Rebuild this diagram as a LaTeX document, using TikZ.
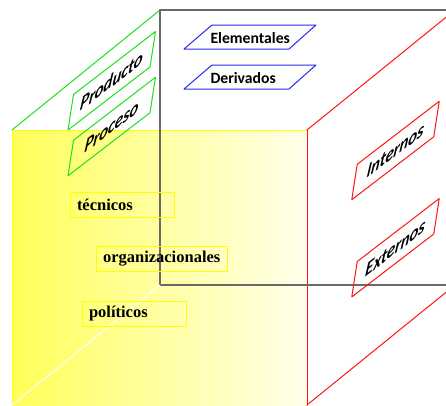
\documentclass[tikz,border=0pt]{standalone}
\usepackage{fontspec}
\setmainfont{Liberation Serif}
\newfontfamily\cuadro{Carlito}
\definecolor{verde}{RGB}{30,225,30}
\definecolor{rojo}{RGB}{255,20,20}
\definecolor{azul}{RGB}{40,40,240}
\definecolor{gris}{RGB}{105,105,105}
\definecolor{amarillo}{RGB}{255,255,0}
\definecolor{amarilloA}{RGB}{255,255,90}
\definecolor{amarilloB}{RGB}{255,255,235}
\begin{document}
\begin{tikzpicture}[line join=round,line cap=round,x=1pt,y=-1pt,line width=1pt,
	inclinado/.style={draw=#1,inner sep=0pt,minimum width=103.4pt,minimum height=35.9pt,
		cm={0.793,0.609,0.153,0.988,(0,0)},font=\cuadro\bfseries\itshape\fontsize{21}{21}\selectfont},
	factor/.style={draw=amarillo,anchor=west,inner xsep=6.5pt,minimum height=25pt,
		text width=#1,align=flush left,font=\bfseries\fontsize{16.5}{16.5}\selectfont},
	dato/.style={anchor=base west,inner sep=0pt,font=\cuadro\bfseries\fontsize{15.7}{15.7}\selectfont}]
	\newcommand{\drawdato}[3]{
		% paralelogramo azul
		\draw[azul] (184,#2+12) -- ++(28,-24) -- ++(104,0) -- ++(-27,24) -- cycle;
		\node[dato] (#1) at (210,#2+6.5) {#3};
	}
	\useasboundingbox (0,0) rectangle (446,405);
	\clip (0,0) rectangle (446,405);
	% Vértices del cubo
	\coordinate (FA) at (12,130);
	\coordinate (FB) at (307,130);
	\coordinate (FC) at (307,405);
	\coordinate (FD) at (12,405);
	\coordinate (BA) at (160,10);
	\coordinate (BB) at (455,10);
	\coordinate (BC) at (455,285);
	\coordinate (BD) at (160,285);
	% Cara frontal
	\fill[left color=amarilloA,right color=amarilloB] (FA) rectangle (FC);
	\draw[amarillo] (FD) -- (FA) -- (FB);
	\draw[rojo] (FB) -- (FC);
	% Cara superior y lateral
	\draw[verde] (FA) -- (BA);
	\draw[rojo] (FB) -- (BB) (FC) -- (BC);
	% Cara posterior
	\draw[gris,line width=1.4pt] (BB) -- (BA) -- (BD) -- (BC);
	\draw[white] (FD) -- (BD);
	% Datos
	\drawdato{elementales}{37}{Elementales}
	\drawdato{derivados}{77}{Derivados}
	% Factores
	\node[factor=91pt] (tecnicos) at (70,204.5) {técnicos};
	\node[factor=118pt] (organizacionales) at (96,258.5) {organizacionales};
	\node[factor=91pt] (politicos) at (82,313.5) {políticos};
	% Cara superior: producto y proceso
	\node[inclinado=verde] (producto) at (111.75,80.75) {Producto};
	\node[inclinado=verde] (proceso) at (111.75,126.5) {Proceso};
	% Cara lateral: internos y externos
	\node[inclinado=rojo] (internos) at (395.5,150.5) {Internos};
	\node[inclinado=rojo] (externos) at (395.5,247.75) {Externos};
\end{tikzpicture}
\end{document}
